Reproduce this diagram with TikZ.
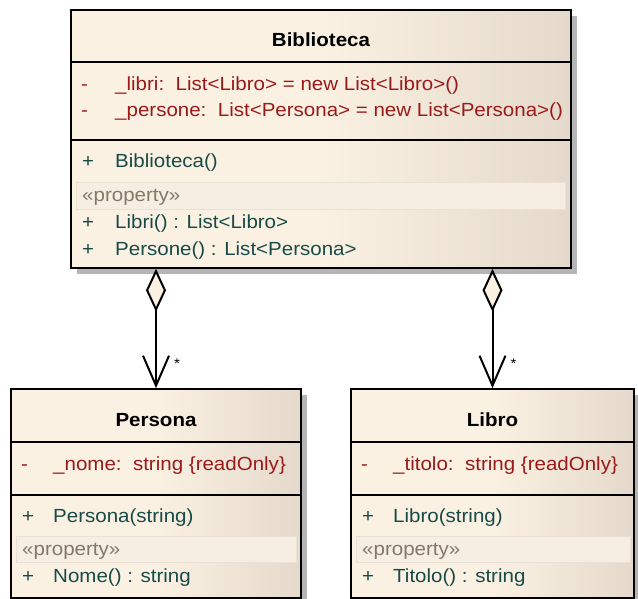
\documentclass[tikz,border=0pt]{standalone}
\usepackage{fontspec}
\setmainfont[FakeStretch=1.08]{Liberation Sans}
\usetikzlibrary{arrows.meta,calc,shadows}
\definecolor{creamL}{HTML}{FBF1E3}
\definecolor{creamR}{HTML}{E4D9CA}
\definecolor{attrc}{HTML}{9A1A1A}
\definecolor{operc}{HTML}{174B48}
\definecolor{propc}{HTML}{857868}
\definecolor{propfill}{HTML}{F6EEE2}
\definecolor{propline}{HTML}{E9E1D3}
\definecolor{shadowc}{HTML}{B5B5B5}
\pgfdeclarehorizontalshading{classfill}{100bp}{color(0bp)=(creamL); color(25bp)=(creamL); color(50bp)=(creamL); color(75bp)=(creamR); color(100bp)=(creamR)}
\begin{document}
\begin{tikzpicture}[x=1pt,y=-1pt,
  classbox/.style={draw=black, line width=1.6pt, shading=classfill, inner sep=0pt,
    drop shadow={shadow xshift=6pt, shadow yshift=-6pt, fill=shadowc, opacity=1}},
  divider/.style={draw=black, line width=1.6pt},
  band/.style={fill=propfill, draw=propline, line width=0.8pt},
  txt/.style={anchor=base west, inner sep=0pt, font=\fontsize{19}{22}\selectfont},
  ctitle/.style={anchor=base, inner sep=0pt, font=\fontsize{19}{22}\selectfont\bfseries},
  attr/.style={txt, text=attrc},
  oper/.style={txt, text=operc},
  prop/.style={txt, text=propc},
  mult/.style={inner sep=0pt, font=\fontsize{14}{16}\selectfont},
  assoc/.style={line width=2pt, {Diamond[length=43pt,width=20pt,fill=creamL]}-{Straight Barb[length=30pt,width=26pt]}}
]
\useasboundingbox (0,0) rectangle (638,599);

% ---------- Biblioteca ----------
\node[classbox, minimum width=500pt, minimum height=258pt] (bib) at (321,139) {};
\draw[divider] ($(bib.north west)+(0,53)$) -- ($(bib.north east)+(0,53)$);
\draw[divider] ($(bib.north west)+(0,131)$) -- ($(bib.north east)+(0,131)$);
\path[band] ($(bib.north west)+(6,173)$) rectangle ($(bib.north east)+(-6,200)$);
\node[ctitle] (bibt) at (321,47) {Biblioteca};
\node[attr] (bibm1) at (81,91) {-};
\node[attr] (biba1) at (115,91) {\_libri:\ \ List<Libro> = new List<Libro>()};
\node[attr] (bibm2) at (81,117) {-};
\node[attr] (biba2) at (115,117) {\_persone:\ \ List<Persona> = new List<Persona>()};
\node[oper] (bibp1) at (82,168) {+};
\node[oper] (bibo1) at (115,168) {Biblioteca()};
\node[prop] (bibpr) at (82,202) {«property»};
\node[oper] (bibp2) at (82,229) {+};
\node[oper] (bibo2) at (115,229) {Libri() : List<Libro>};
\node[oper] (bibp3) at (82,256) {+};
\node[oper] (bibo3) at (115,256) {Persone() : List<Persona>};

% ---------- Persona ----------
\node[classbox, minimum width=290pt, minimum height=209pt] (per) at (156,493.5) {};
\draw[divider] ($(per.north west)+(0,54)$) -- ($(per.north east)+(0,54)$);
\draw[divider] ($(per.north west)+(0,107)$) -- ($(per.north east)+(0,107)$);
\path[band] ($(per.north west)+(6,148)$) rectangle ($(per.north east)+(-5,174)$);
\node[ctitle] (pert) at (156,426) {Persona};
\node[attr] (perm1) at (21,470) {-};
\node[attr] (pera1) at (53,470) {\_nome:\ \ string \{readOnly\}};
\node[oper] (perp1) at (22,522) {+};
\node[oper] (pero1) at (53,522) {Persona(string)};
\node[prop] (perpr) at (22,555) {«property»};
\node[oper] (perp2) at (22,582) {+};
\node[oper] (pero2) at (53,582) {Nome() : string};

% ---------- Libro ----------
\node[classbox, minimum width=283pt, minimum height=209pt] (lib) at (492.5,493.5) {};
\draw[divider] ($(lib.north west)+(0,54)$) -- ($(lib.north east)+(0,54)$);
\draw[divider] ($(lib.north west)+(0,107)$) -- ($(lib.north east)+(0,107)$);
\path[band] ($(lib.north west)+(6,148)$) rectangle ($(lib.north east)+(-4,174)$);
\node[ctitle] (libt) at (492.5,426) {Libro};
\node[attr] (libm1) at (361,470) {-};
\node[attr] (liba1) at (393,470) {\_titolo:\ \ string \{readOnly\}};
\node[oper] (libp1) at (362,522) {+};
\node[oper] (libo1) at (393,522) {Libro(string)};
\node[prop] (libpr) at (362,555) {«property»};
\node[oper] (libp2) at (362,582) {+};
\node[oper] (libo2) at (393,582) {Titolo() : string};

% ---------- Associations ----------
\draw[assoc] (bib.south -| per.north) -- (per.north);
\draw[assoc] (bib.south -| lib.north) -- (lib.north);
\node[mult] (m1) at ($(per.north)+(21,-25)$) {*};
\node[mult] (m2) at ($(lib.north)+(21,-25)$) {*};
\end{tikzpicture}
\end{document}
